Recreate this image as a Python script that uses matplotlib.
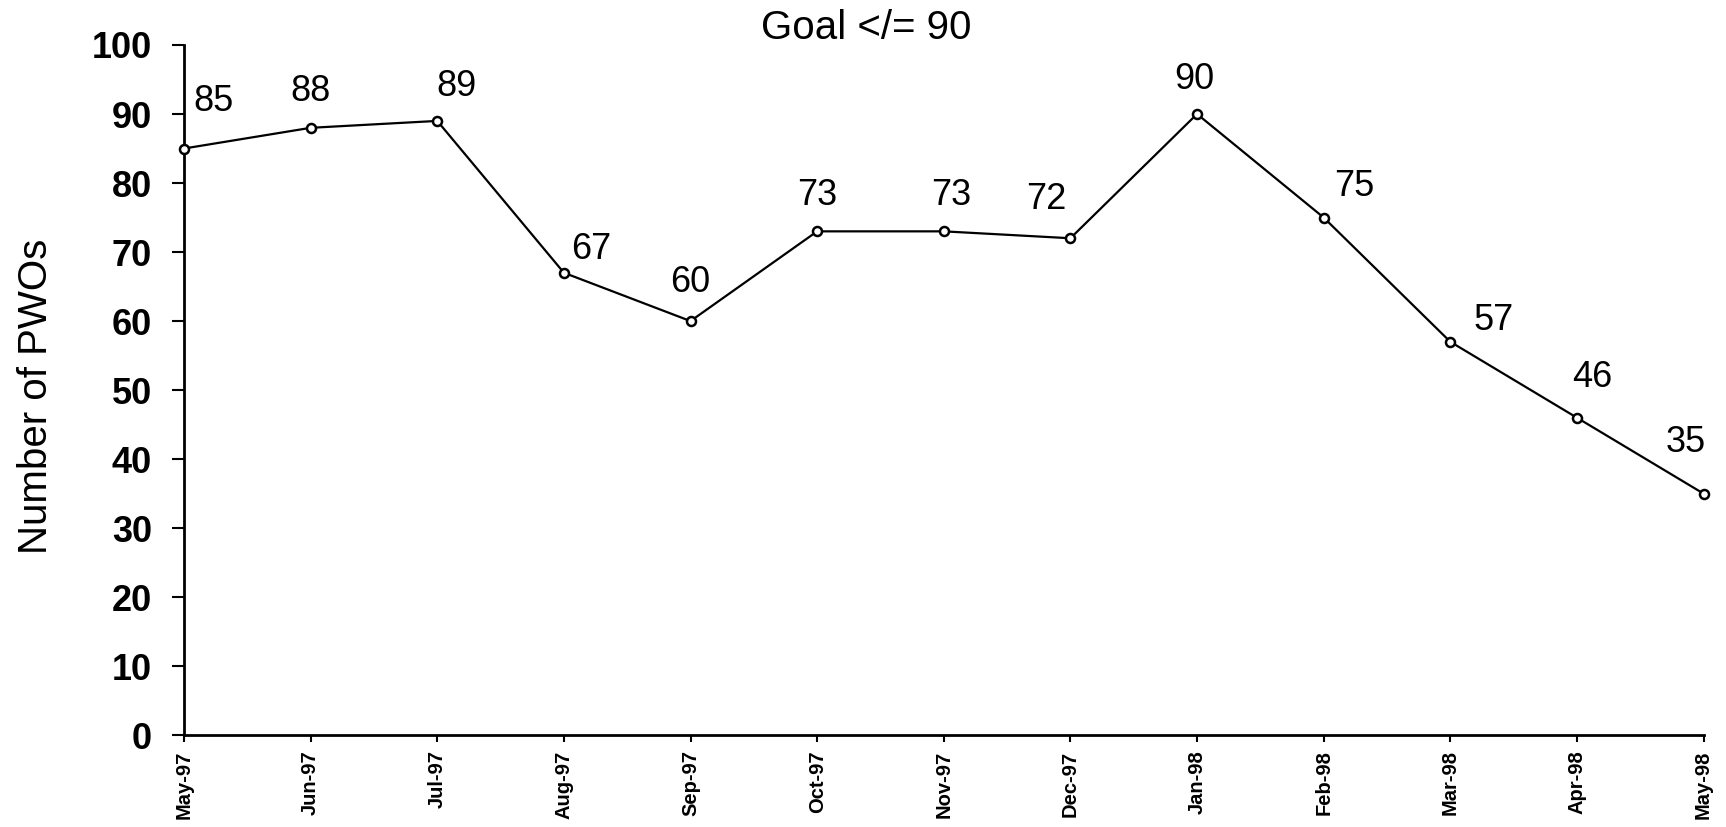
import matplotlib
matplotlib.use("Agg")
import matplotlib.pyplot as plt

months = ["May-97", "Jun-97", "Jul-97", "Aug-97", "Sep-97", "Oct-97", "Nov-97",
          "Dec-97", "Jan-98", "Feb-98", "Mar-98", "Apr-98", "May-98"]
pwos = [85, 88, 89, 67, 60, 73, 73, 72, 90, 75, 57, 46, 35]
# label offsets (points) relative to each point
label_dx = [21, 0, 14, 20, 0, 0, 5, -17, -2, 22, 31, 11, -13]
label_dy = [34, 26, 25, 17, 28, 26, 26, 28, 25, 22, 15, 29, 37]
yticks = [0, 10, 20, 30, 40, 50, 60, 70, 80, 90, 100]

plt.rcParams['font.family'] = ['Liberation Sans', 'DejaVu Sans']

fig = plt.figure(figsize=(17.26, 8.27), dpi=100)
ax = fig.add_axes([0.1066, 0.111, 0.8804, 0.8346])

x = list(range(len(months)))
ax.plot(x, pwos, color='black', linewidth=1.6, marker='o', markersize=6.5,
        markerfacecolor='white', markeredgecolor='black', markeredgewidth=1.8,
        clip_on=False, zorder=3)

for xi, v, dx, dy in zip(x, pwos, label_dx, label_dy):
    ax.annotate(str(v), (xi, v), xytext=(dx, dy), textcoords='offset points',
                ha='center', va='center', fontsize=26)

ax.set_xlim(0, len(months) - 1)
ax.set_ylim(0, 100)
ax.set_yticks(yticks)
ax.set_yticklabels([str(t) for t in yticks], fontsize=26, fontweight='bold')
ax.set_xticks(x)
ax.set_xticklabels(months, rotation=90, fontsize=14.5, fontweight='bold')

for s in ['top', 'right']:
    ax.spines[s].set_visible(False)
for s in ['left', 'bottom']:
    ax.spines[s].set_linewidth(2)
ax.tick_params(axis='y', direction='out', length=9, width=1.5, pad=14)
ax.tick_params(axis='x', direction='out', length=5, width=1.5, pad=6)

fig.text(0.502, 0.966, "Goal </= 90", ha='center', va='center', fontsize=29)
fig.text(0.021, 0.521, "Number of PWOs", rotation=90, ha='center', va='center',
         fontsize=29)

fig.savefig("out.png", dpi=100)
